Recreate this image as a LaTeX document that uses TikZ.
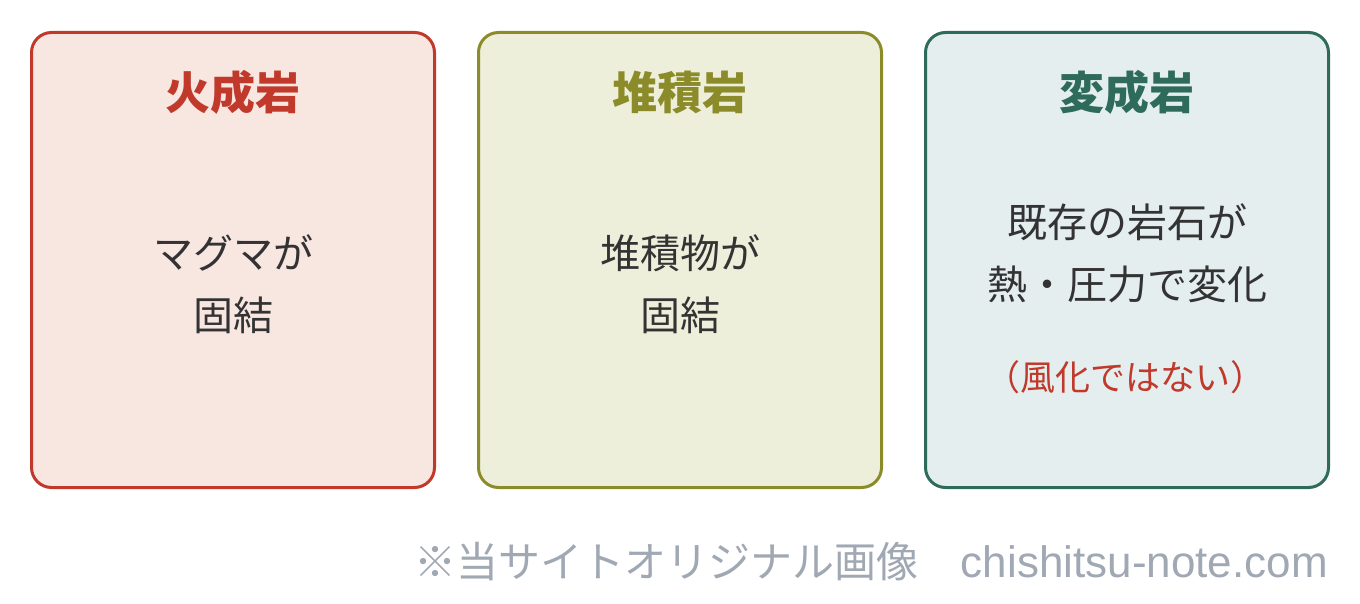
\documentclass[tikz,border=0pt]{standalone}
\usepackage{fontspec}
\setmainfont{Noto Sans CJK JP}
\newfontfamily\latinfont{Liberation Sans}
\definecolor{redc}{HTML}{C0392B}
\definecolor{redf}{HTML}{F8E6E1}
\definecolor{olivec}{HTML}{8B8B2A}
\definecolor{olivef}{HTML}{EEEFDB}
\definecolor{greenc}{HTML}{2E6B5A}
\definecolor{greenf}{HTML}{E5EEEF}
\definecolor{bodyc}{HTML}{333333}
\definecolor{footc}{HTML}{A0A8B4}
\tikzset{
  rockbox/.style={draw, line width=3pt, rounded corners=20pt, minimum width=403pt, minimum height=455pt, inner sep=0pt},
  titletext/.style={font=\fontsize{45}{52}\selectfont\bfseries, inner sep=0pt},
  bodytext/.style={text=bodyc, font=\fontsize{40}{62}\selectfont, align=center, inner sep=0pt},
  notetext/.style={text=redc, font=\fontsize{35}{40}\selectfont, inner sep=0pt},
}
\begin{document}
\begin{tikzpicture}[x=1pt,y=-1pt]
\useasboundingbox (0,0) rectangle (1360,604);
\node[rockbox, draw=redc, fill=redf] (b1) at (233,260) {};
\node[rockbox, draw=olivec, fill=olivef] (b2) at (680,260) {};
\node[rockbox, draw=greenc, fill=greenf] (b3) at (1127,260) {};
\node[titletext, text=redc] (t1) at (233,92) {火成岩};
\node[titletext, text=olivec] (t2) at (680,92) {堆積岩};
\node[titletext, text=greenc] (t3) at (1127,92) {変成岩};
\node[bodytext] (d1) at (233,284) {マグマが\\固結};
\node[bodytext] (d2) at (680,284) {堆積物が\\固結};
\node[bodytext] (d3) at (1127,253) {既存の岩石が\\熱・圧力で変化};
\node[notetext] (n3) at (1125,377) {（風化ではない）};
\node[text=footc, font=\fontsize{42}{46}\selectfont, anchor=east, inner sep=0pt] (foot) at (1328,562) {※当サイトオリジナル画像\hspace{1em}{\latinfont\fontsize{44}{46}\selectfont chishitsu-note.com}};
\end{tikzpicture}
\end{document}
